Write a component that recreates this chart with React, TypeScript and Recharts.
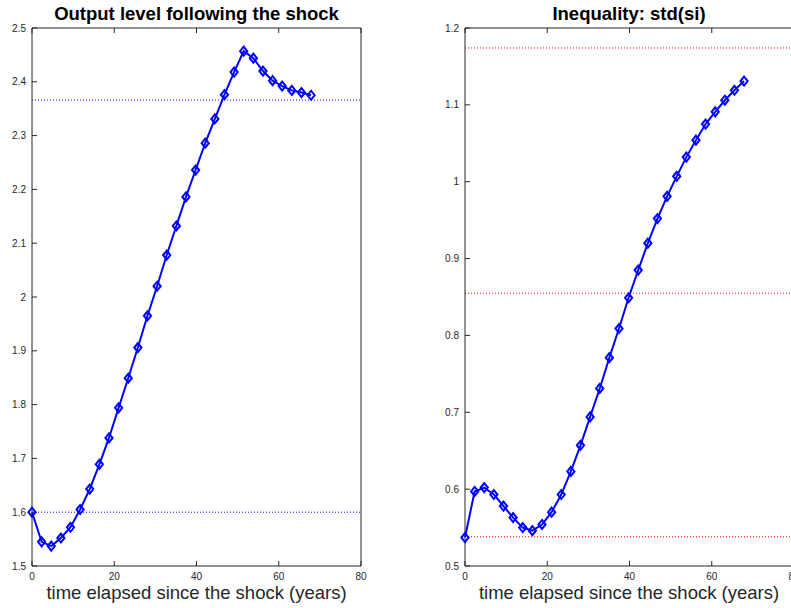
import { LineChart, Line, XAxis, YAxis, ReferenceLine } from "recharts";

// years since the shock, one point per model period
const years = [
  0, 2.34, 4.68, 7.02, 9.36, 11.7, 14.04, 16.38, 18.72, 21.06, 23.4, 25.74, 28.08, 30.42, 32.76,
  35.1, 37.44, 39.78, 42.12, 44.46, 46.8, 49.14, 51.48, 53.82, 56.16, 58.5, 60.84, 63.18, 65.52, 67.86,
];

const output = [
  1.6, 1.545, 1.537, 1.552, 1.572, 1.605, 1.643, 1.689, 1.738, 1.794, 1.849, 1.906, 1.965, 2.02, 2.078,
  2.132, 2.186, 2.236, 2.286, 2.331, 2.376, 2.418, 2.457, 2.444, 2.42, 2.402, 2.392, 2.384, 2.38, 2.375,
];

const inequality = [
  0.537, 0.597, 0.602, 0.593, 0.578, 0.563, 0.55, 0.546, 0.554, 0.57, 0.593, 0.623, 0.657, 0.694, 0.731,
  0.771, 0.809, 0.849, 0.885, 0.92, 0.952, 0.981, 1.007, 1.032, 1.054, 1.075, 1.091, 1.106, 1.119, 1.131,
];

const outputRefs = [2.366, 1.6];
const inequalityRefs = [1.174, 0.855, 0.538];

const xTicks = [0, 20, 40, 60, 80];
const outputTicks = [1.5, 1.6, 1.7, 1.8, 1.9, 2, 2.1, 2.2, 2.3, 2.4, 2.5];
const inequalityTicks = [0.5, 0.6, 0.7, 0.8, 0.9, 1, 1.1, 1.2];

const FONT = '"Liberation Sans", Arial, sans-serif';
const AXIS = "#262626";

const Diamond = (props: any) => {
  const { cx, cy, index } = props;
  if (cx == null || cy == null) return null;
  return (
    <path
      key={`d-${index}`}
      d={`M${cx},${cy - 4.5} L${cx + 3.6},${cy} L${cx},${cy + 4.5} L${cx - 3.6},${cy} Z`}
      fill="none"
      stroke="#0000ff"
      strokeWidth={2}
    />
  );
};

interface PanelProps {
  values: number[];
  refs: number[];
  refColor: string;
  yTicks: number[];
  yDomain: [number, number];
  left: number;
  yAxisWidth: number;
  rightMargin: number;
}

function Panel({ values, refs, refColor, yTicks, yDomain, left, yAxisWidth, rightMargin }: PanelProps) {
  const data = years.map((t, i) => ({ t, v: values[i] }));
  const tickStyle = { fontSize: 10, fill: AXIS, fontFamily: FONT };
  const blank = () => "";
  return (
    <div style={{ position: "absolute", left, top: 0 }}>
      <LineChart
        width={400}
        height={608}
        data={data}
        margin={{ top: 27, right: rightMargin, bottom: 0, left: 0 }}
      >
        <XAxis
          xAxisId="b"
          type="number"
          dataKey="t"
          domain={[0, 80]}
          ticks={xTicks}
          height={42}
          tickSize={-5}
          tickMargin={12}
          tick={tickStyle}
          stroke={AXIS}
        />
        <XAxis
          xAxisId="t"
          orientation="top"
          type="number"
          dataKey="t"
          domain={[0, 80]}
          ticks={xTicks}
          height={1}
          tickSize={-5}
          tickFormatter={blank}
          stroke={AXIS}
        />
        <YAxis
          yAxisId="l"
          type="number"
          domain={yDomain}
          ticks={yTicks}
          width={yAxisWidth}
          tickSize={-5}
          tickMargin={11}
          tick={tickStyle}
          stroke={AXIS}
        />
        <YAxis
          yAxisId="r"
          orientation="right"
          type="number"
          domain={yDomain}
          ticks={yTicks}
          width={1}
          tickSize={-5}
          tickFormatter={blank}
          stroke={AXIS}
        />
        {refs.map((r) => (
          <ReferenceLine
            key={r}
            xAxisId="b"
            yAxisId="l"
            y={r}
            stroke={refColor}
            strokeDasharray="1 2"
            strokeWidth={1}
          />
        ))}
        <Line
          xAxisId="b"
          yAxisId="l"
          dataKey="v"
          stroke="#0000ff"
          strokeWidth={2}
          dot={<Diamond />}
          activeDot={false}
          isAnimationActive={false}
        />
      </LineChart>
    </div>
  );
}

export default function App() {
  return (
    <div
      style={{
        position: "absolute",
        left: 0,
        top: 0,
        width: 791,
        height: 608,
        overflow: "hidden",
        background: "#fff",
      }}
    >
      <Panel
        values={output}
        refs={outputRefs}
        refColor="#0000ff"
        yTicks={outputTicks}
        yDomain={[1.5, 2.5]}
        left={0}
        yAxisWidth={32}
        rightMargin={38}
      />
      <Panel
        values={inequality}
        refs={inequalityRefs}
        refColor="#ff0000"
        yTicks={inequalityTicks}
        yDomain={[0.5, 1.2]}
        left={400}
        yAxisWidth={65}
        rightMargin={5}
      />
      <svg
        width={791}
        height={608}
        style={{ position: "absolute", left: 0, top: 0, pointerEvents: "none" }}
        fontFamily={FONT}
      >
        <text x={196.5} y={20} textAnchor="middle" fontSize={18.5} fontWeight="bold" fill="#000">
          Output level following the shock
        </text>
        <text x={629} y={19.5} textAnchor="middle" fontSize={18.5} fontWeight="bold" fill="#000">
          Inequality: std(si)
        </text>
        <text x={196.5} y={599} textAnchor="middle" fontSize={18.5} fill={AXIS}>
          time elapsed since the shock (years)
        </text>
        <text x={629} y={599} textAnchor="middle" fontSize={18.5} fill={AXIS}>
          time elapsed since the shock (years)
        </text>
      </svg>
    </div>
  );
}
